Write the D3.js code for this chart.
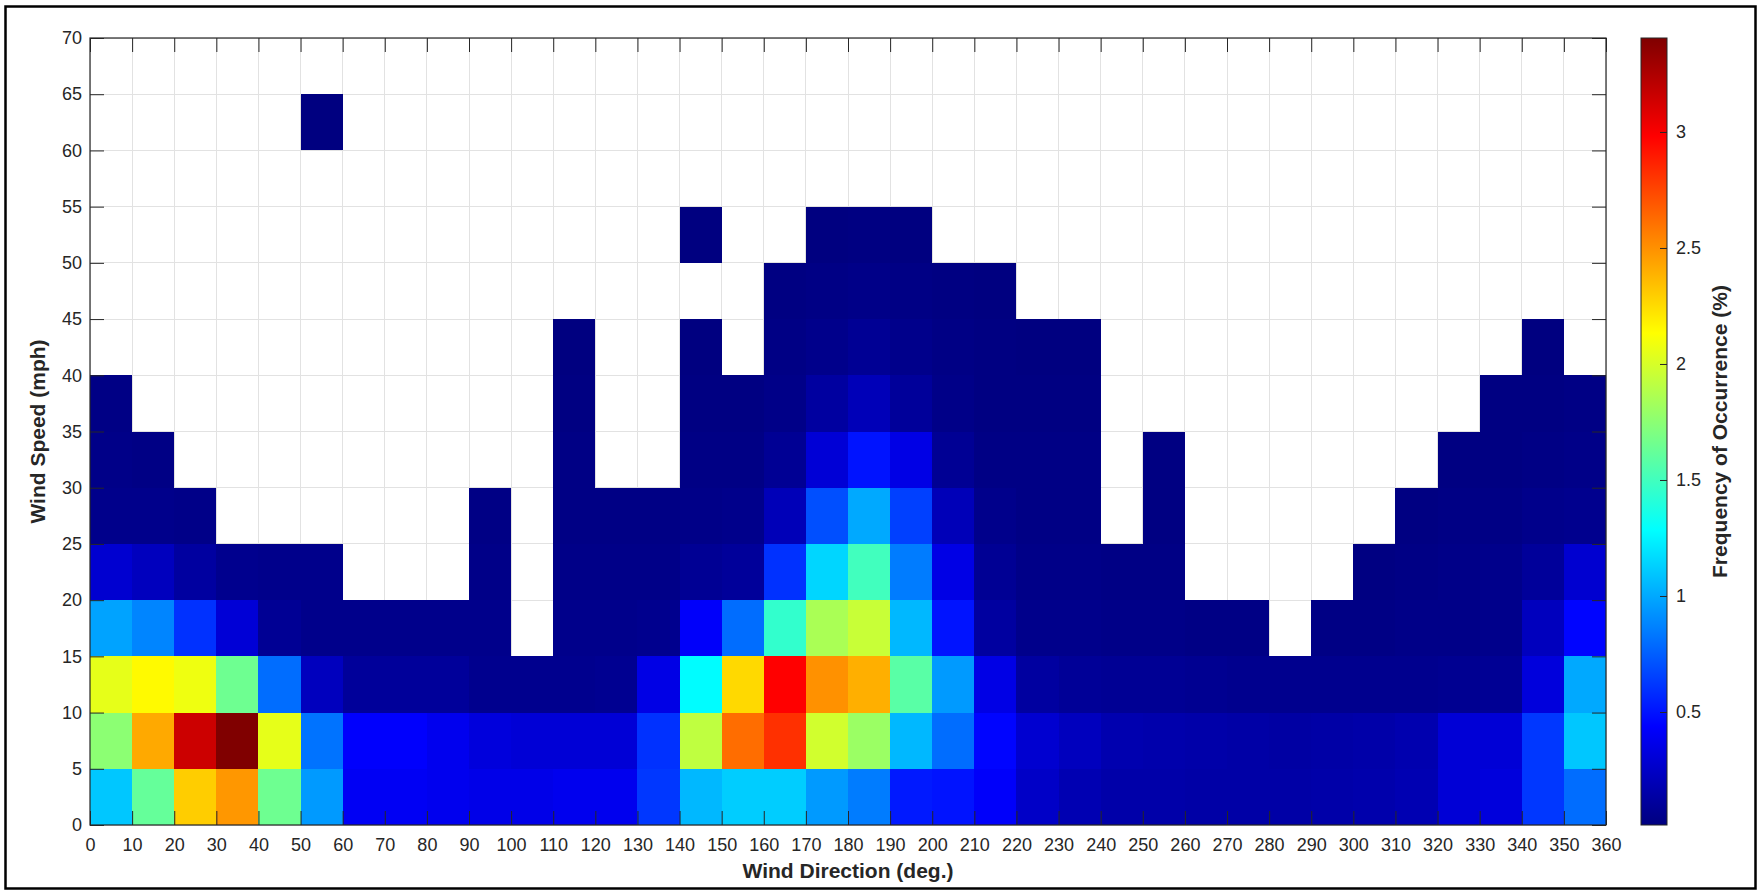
<!DOCTYPE html>
<html>
<head>
<meta charset="utf-8">
<script src="https://cdn.jsdelivr.net/npm/d3@7"></script>
<style>
  html, body { margin: 0; padding: 0; background: #fff; }
  svg { display: block; font-family: "Liberation Sans", Arial, Helvetica, sans-serif; }
</style>
</head>
<body>
<svg id="chart" width="1760" height="891"></svg>
<script>
// Wind direction bins (deg, lower edge) and wind speed bins (mph, lower edge)
const directions = [0,10,20,30,40,50,60,70,80,90,100,110,120,130,140,150,160,170,
                    180,190,200,210,220,230,240,250,260,270,280,290,300,310,320,330,340,350];
const speeds = [0,5,10,15,20,25,30,35,40,45,50,55,60,65];
const dirStep = 10, speedStep = 5;

const xTicks = [0,10,20,30,40,50,60,70,80,90,100,110,120,130,140,150,160,170,180,
                190,200,210,220,230,240,250,260,270,280,290,300,310,320,330,340,350,360];
const yTicks = [0,5,10,15,20,25,30,35,40,45,50,55,60,65,70];
const cbTicks = [0.5,1,1.5,2,2.5,3];

// Frequency of occurrence (%) per speed bin, one value per direction bin (null = no occurrences)
const N = null;
const s00_05 = [1.10,1.62,2.30,2.48,1.65, 0.95,0.40,0.40,0.38,0.36, 0.36,0.38,0.38,0.62,1.05, 1.12,1.12,0.95,0.85,0.52, 0.50,0.42,0.25,0.18,0.15, 0.15,0.14,0.14,0.14,0.15, 0.16,0.18,0.30,0.32,0.62, 0.80];
const s05_10 = [1.75,2.42,3.15,3.405,2.05, 0.82,0.43,0.43,0.38,0.32, 0.30,0.30,0.30,0.60,1.92, 2.62,2.82,1.98,1.80,1.05, 0.80,0.45,0.28,0.22,0.17, 0.16,0.15,0.14,0.13,0.14, 0.15,0.17,0.30,0.30,0.62, 1.10];
const s10_15 = [2.05,2.15,2.08,1.65,0.80, 0.22,0.10,0.10,0.10,0.06, 0.06,0.06,0.07,0.35,1.28, 2.26,2.98,2.50,2.40,1.58, 0.95,0.35,0.12,0.09,0.08, 0.08,0.07,0.06,0.06,0.06, 0.06,0.06,0.07,0.08,0.32, 1.00];
const s15_20 = [0.98,0.88,0.60,0.30,0.08, 0.05,0.05,0.05,0.05,0.05, N,0.05,0.05,0.06,0.42, 0.80,1.45,1.85,1.95,1.05, 0.50,0.12,0.05,0.05,0.04, 0.04,0.03,0.03,N,0.03, 0.03,0.04,0.04,0.05,0.22, 0.45];
const s20_25 = [0.28,0.22,0.12,0.06,0.05, 0.05,N,N,N,0.04, N,0.04,0.04,0.04,0.08, 0.10,0.60,1.15,1.50,0.85, 0.35,0.08,0.04,0.04,0.03, 0.03,N,N,N,N, 0.02,0.03,0.04,0.05,0.10, 0.28];
const s25_30 = [0.05,0.05,0.04,N,N, N,N,N,N,0.03, N,0.03,0.03,0.03,0.04, 0.05,0.20,0.70,1.00,0.65, 0.20,0.05,0.03,0.03,N, 0.02,N,N,N,N, N,0.02,0.03,0.03,0.05, 0.06];
const s30_35 = [0.04,0.03,N,N,N, N,N,N,N,N, N,0.03,N,N,0.03, 0.03,0.08,0.30,0.50,0.35, 0.08,0.03,0.03,0.03,N, 0.02,N,N,N,N, N,N,0.02,0.02,0.03, 0.04];
const s35_40 = [0.03,N,N,N,N, N,N,N,N,N, N,0.02,N,N,0.02, 0.02,0.04,0.12,0.20,0.10, 0.04,0.02,0.02,0.02,N, N,N,N,N,N, N,N,N,0.02,0.02, 0.03];
const s40_45 = [N,N,N,N,N, N,N,N,N,N, N,0.013,N,N,0.013, N,0.03,0.05,0.08,0.05, 0.03,0.02,0.015,0.015,N, N,N,N,N,N, N,N,N,N,0.013, N];
const s45_50 = [N,N,N,N,N, N,N,N,N,N, N,N,N,N,N, N,0.02,0.03,0.04,0.03, 0.02,0.015,N,N,N, N,N,N,N,N, N,N,N,N,N, N];
const s50_55 = [N,N,N,N,N, N,N,N,N,N, N,N,N,N,0.013, N,N,0.015,0.02,0.015, N,N,N,N,N, N,N,N,N,N, N,N,N,N,N, N];
const s55_60 = [N,N,N,N,N, N,N,N,N,N, N,N,N,N,N, N,N,N,N,N, N,N,N,N,N, N,N,N,N,N, N,N,N,N,N, N];
const s60_65 = [N,N,N,N,N, 0.013,N,N,N,N, N,N,N,N,N, N,N,N,N,N, N,N,N,N,N, N,N,N,N,N, N,N,N,N,N, N];
const s65_70 = [N,N,N,N,N, N,N,N,N,N, N,N,N,N,N, N,N,N,N,N, N,N,N,N,N, N,N,N,N,N, N,N,N,N,N, N];
const freqBySpeed = [s00_05,s05_10,s10_15,s15_20,s20_25,s25_30,s30_35,s35_40,s40_45,s45_50,s50_55,s55_60,s60_65,s65_70];

// Layout
const W = 1760, H = 891;
const plot = { left: 90, right: 1606, top: 38, bottom: 825 };
const cbar = { left: 1641, right: 1667 };
const ink = "#262626";

// Jet colour map
function jet(t) {
  const c = v => Math.max(0, Math.min(1, v));
  const r = c(1.5 - Math.abs(4 * t - 3));
  const g = c(1.5 - Math.abs(4 * t - 2));
  const b = c(1.5 - Math.abs(4 * t - 1));
  return d3.rgb(r * 255, g * 255, b * 255).toString();
}

const cells = [];
freqBySpeed.forEach((row, i) => row.forEach((v, j) => {
  if (v !== null) cells.push({ dir: directions[j], spd: speeds[i], v });
}));

const x = d3.scaleLinear().domain([0, 360]).range([plot.left, plot.right]);
const y = d3.scaleLinear().domain([0, 70]).range([plot.bottom, plot.top]);
const color = d3.scaleSequential(jet).domain(d3.extent(cells, d => d.v));
const cy = d3.scaleLinear().domain(color.domain()).range([plot.bottom, plot.top]);

const svg = d3.select("#chart");
svg.append("rect").attr("width", W).attr("height", H).attr("fill", "#fff");

// Figure frame
svg.append("rect")
  .attr("x", 5.5).attr("y", 6.5).attr("width", 1750).attr("height", 882)
  .attr("fill", "none").attr("stroke", "#000").attr("stroke-width", 2.5);

// Grid
const grid = svg.append("g").attr("stroke", "#e2e2e2").attr("stroke-width", 1).attr("shape-rendering", "crispEdges");
grid.selectAll("line.v").data(xTicks).join("line").attr("class", "v")
  .attr("x1", d => x(d)).attr("x2", d => x(d)).attr("y1", plot.top).attr("y2", plot.bottom);
grid.selectAll("line.h").data(yTicks).join("line").attr("class", "h")
  .attr("y1", d => y(d)).attr("y2", d => y(d)).attr("x1", plot.left).attr("x2", plot.right);

// Heat-map cells
svg.append("g").attr("shape-rendering", "crispEdges")
  .selectAll("rect").data(cells).join("rect")
  .attr("x", d => x(d.dir))
  .attr("y", d => y(d.spd + speedStep))
  .attr("width", d => x(d.dir + dirStep) - x(d.dir))
  .attr("height", d => y(d.spd) - y(d.spd + speedStep))
  .attr("fill", d => color(d.v));

// Axes with inward ticks
function styleAxis(g) {
  g.select(".domain").remove();
  g.selectAll(".tick line").attr("stroke", ink);
  g.selectAll(".tick text").attr("fill", ink).attr("font-size", 18);
}
const tickLen = 14;
svg.append("g").attr("transform", `translate(0,${plot.bottom})`)
  .call(d3.axisBottom(x).tickValues(xTicks).tickFormat(d3.format("d")).tickSize(-tickLen).tickPadding(13))
  .call(styleAxis);
svg.append("g").attr("transform", `translate(0,${plot.top})`)
  .call(d3.axisTop(x).tickValues(xTicks).tickFormat("").tickSize(-tickLen))
  .call(styleAxis);
svg.append("g").attr("transform", `translate(${plot.left},0)`)
  .call(d3.axisLeft(y).tickValues(yTicks).tickFormat(d3.format("d")).tickSize(-tickLen).tickPadding(8))
  .call(styleAxis);
svg.append("g").attr("transform", `translate(${plot.right},0)`)
  .call(d3.axisRight(y).tickValues(yTicks).tickFormat("").tickSize(-tickLen))
  .call(styleAxis);

// Plot box
svg.append("rect")
  .attr("x", plot.left).attr("y", plot.top)
  .attr("width", plot.right - plot.left).attr("height", plot.bottom - plot.top)
  .attr("fill", "none").attr("stroke", ink).attr("stroke-width", 1.2);

// Axis titles
svg.append("text")
  .attr("x", (plot.left + plot.right) / 2).attr("y", 878)
  .attr("text-anchor", "middle").attr("font-weight", "bold").attr("font-size", 21).attr("fill", ink)
  .text("Wind Direction (deg.)");
svg.append("text")
  .attr("transform", `translate(45,${(plot.top + plot.bottom) / 2}) rotate(-90)`)
  .attr("text-anchor", "middle").attr("font-weight", "bold").attr("font-size", 21).attr("fill", ink)
  .text("Wind Speed (mph)");

// Colour bar
const defs = svg.append("defs");
const grad = defs.append("linearGradient").attr("id", "jetbar")
  .attr("x1", 0).attr("y1", 1).attr("x2", 0).attr("y2", 0);
grad.selectAll("stop").data(d3.range(0, 1.0001, 1 / 64)).join("stop")
  .attr("offset", d => d).attr("stop-color", d => jet(d));
svg.append("rect")
  .attr("x", cbar.left).attr("y", plot.top)
  .attr("width", cbar.right - cbar.left).attr("height", plot.bottom - plot.top)
  .attr("fill", "url(#jetbar)").attr("stroke", ink).attr("stroke-width", 1);
svg.append("g").attr("transform", `translate(${cbar.right},0)`)
  .call(d3.axisRight(cy).tickValues(cbTicks).tickFormat(d => String(d)).tickSize(-7).tickPadding(9))
  .call(styleAxis);
svg.append("text")
  .attr("transform", `translate(1727,${(plot.top + plot.bottom) / 2}) rotate(-90)`)
  .attr("text-anchor", "middle").attr("font-weight", "bold").attr("font-size", 21).attr("fill", ink)
  .text("Frequency of Occurrence (%)");
</script>
</body>
</html>
